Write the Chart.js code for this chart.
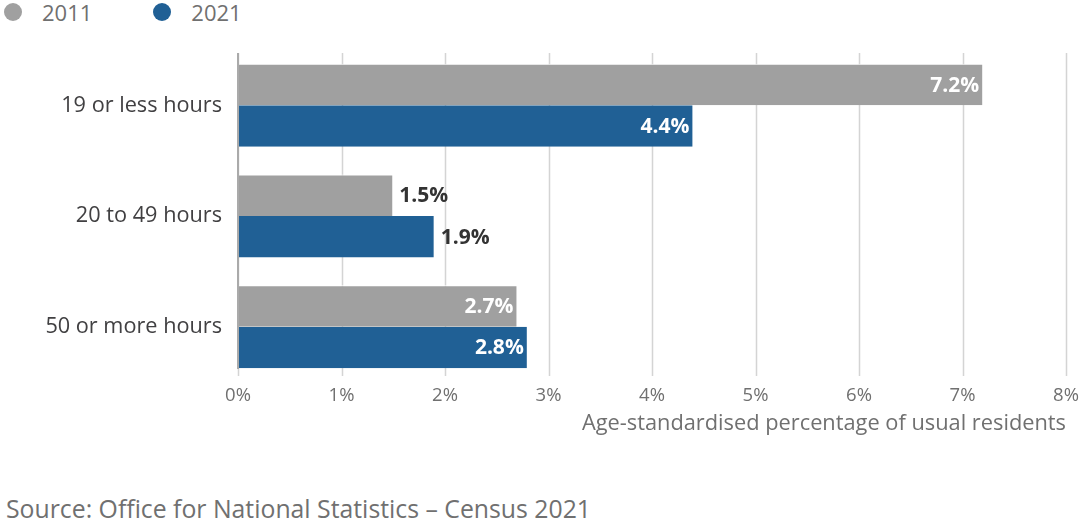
<!DOCTYPE html>
<html>
<head>
<meta charset="utf-8">
<script src="https://cdn.jsdelivr.net/npm/chart.js@4"></script>
<style>
  body { margin: 0; background: #fff; font-family: "Open Sans", sans-serif; }
  .legenda { position: absolute; left: 0; top: 0; height: 24px; display: flex; align-items: center; font-size: 22px; color: #707070; }
  .legenda span.item { display: flex; align-items: center; }
  .legenda i { display: inline-block; width: 18px; height: 18px; border-radius: 50%; margin: 0 20px 0 4px; }
  #caixa { position: absolute; left: 0; top: 40px; width: 1088px; height: 400px; }
  .fonte { position: absolute; left: 6px; top: 493px; line-height: 30px; font-size: 24.8px; color: #707070; }
</style>
</head>
<body>
<div class="legenda">
  <span class="item" style="margin-right:57px"><i style="background:#a0a0a0"></i>2011</span>
  <span class="item"><i style="background:#206095"></i>2021</span>
</div>
<div id="caixa"><canvas id="grafico"></canvas></div>
<div class="fonte">Source: Office for National Statistics – Census 2021</div>
<script>
const categorias = ["19 or less hours", "20 to 49 hours", "50 or more hours"];
const valores2011 = [7.2, 1.5, 2.7];
const valores2021 = [4.4, 1.9, 2.8];
const ticksX = ["0%", "1%", "2%", "3%", "4%", "5%", "6%", "7%", "8%"];

// Linhas de grade verticais e eixo esquerdo (mais curtos que a área das barras)
const grade = {
    id: "grade",
    beforeDatasetsDraw(chart) {
        const ctx = chart.ctx;
        const area = chart.chartArea;
        const x = chart.scales.x;
        const topo = area.top + 3;
        ctx.save();
        ctx.strokeStyle = "#d4d4d4";
        ctx.lineWidth = 1.5;
        x.ticks.forEach(t => {
            const px = Math.round(x.getPixelForValue(t.value)) + 0.5;
            ctx.beginPath();
            ctx.moveTo(px, topo);
            ctx.lineTo(px, area.bottom - 6);
            ctx.stroke();
        });
        ctx.restore();
    },
    afterDatasetsDraw(chart) {
        const ctx = chart.ctx;
        const area = chart.chartArea;
        const x0 = chart.scales.x.getPixelForValue(0);
        ctx.save();
        ctx.strokeStyle = "#aaaaaa";
        ctx.lineWidth = 2;
        ctx.beginPath();
        ctx.moveTo(x0, area.top + 3);
        ctx.lineTo(x0, area.bottom - 13);
        ctx.stroke();
        ctx.restore();
    }
};

// Rótulos de valor nas barras
const rotulos = {
    id: "rotulos",
    afterDatasetsDraw(chart) {
        const ctx = chart.ctx;
        ctx.save();
        ctx.font = "bold 21px 'Open Sans'";
        ctx.textBaseline = "middle";
        chart.data.datasets.forEach((ds, i) => {
            chart.getDatasetMeta(i).data.forEach((bar, j) => {
                const v = ds.data[j];
                const txt = v.toFixed(1) + "%";
                if (v >= 2) {
                    ctx.fillStyle = "#ffffff";
                    ctx.textAlign = "right";
                    ctx.fillText(txt, bar.x - 4, bar.y + 1);
                } else {
                    ctx.fillStyle = "#333333";
                    ctx.textAlign = "left";
                    ctx.fillText(txt, bar.x + 6, bar.y + 1);
                }
            });
        });
        ctx.restore();
    }
};

new Chart(document.getElementById("grafico"), {
    type: "bar",
    data: {
        labels: categorias,
        datasets: [
            { label: "2011", data: valores2011, backgroundColor: "#a0a0a0", borderColor: "#ffffff", borderWidth: { top: 1, bottom: 0, left: 0, right: 1 } },
            { label: "2021", data: valores2021, backgroundColor: "#206095", borderColor: "#ffffff", borderWidth: { top: 0, bottom: 0, left: 0, right: 1 } }
        ]
    },
    options: {
        indexAxis: "y",
        responsive: true,
        maintainAspectRatio: false,
        animation: false,
        layout: { padding: { top: 10, right: 22, left: 0, bottom: 3 } },
        plugins: { legend: { display: false }, tooltip: { enabled: false } },
        datasets: { bar: { categoryPercentage: 0.75, barPercentage: 1.0 } },
        scales: {
            x: {
                min: 0,
                max: 8,
                grid: { display: false, drawTicks: false },
                border: { display: false },
                ticks: {
                    stepSize: 1,
                    color: "#707070",
                    font: { family: "Open Sans", size: 18.5 },
                    padding: 3,
                    callback: (v, i) => ticksX[i]
                },
                title: {
                    display: true,
                    text: "Age-standardised percentage of usual residents",
                    align: "end",
                    color: "#707070",
                    font: { family: "Open Sans", size: 21.8 },
                    padding: { top: 0, bottom: 0 }
                },
                afterFit: (scale) => { scale.height = 55; }
            },
            y: {
                grid: { display: false, drawTicks: false },
                border: { display: false },
                ticks: {
                    color: "#414042",
                    font: { family: "Open Sans", size: 21.7 },
                    padding: 16
                },
                afterFit: (scale) => {
                    scale.width = 238;
                    scale.paddingTop = 0;
                    scale.paddingBottom = 0;
                }
            }
        }
    },
    plugins: [grade, rotulos]
});
</script>
</body>
</html>
